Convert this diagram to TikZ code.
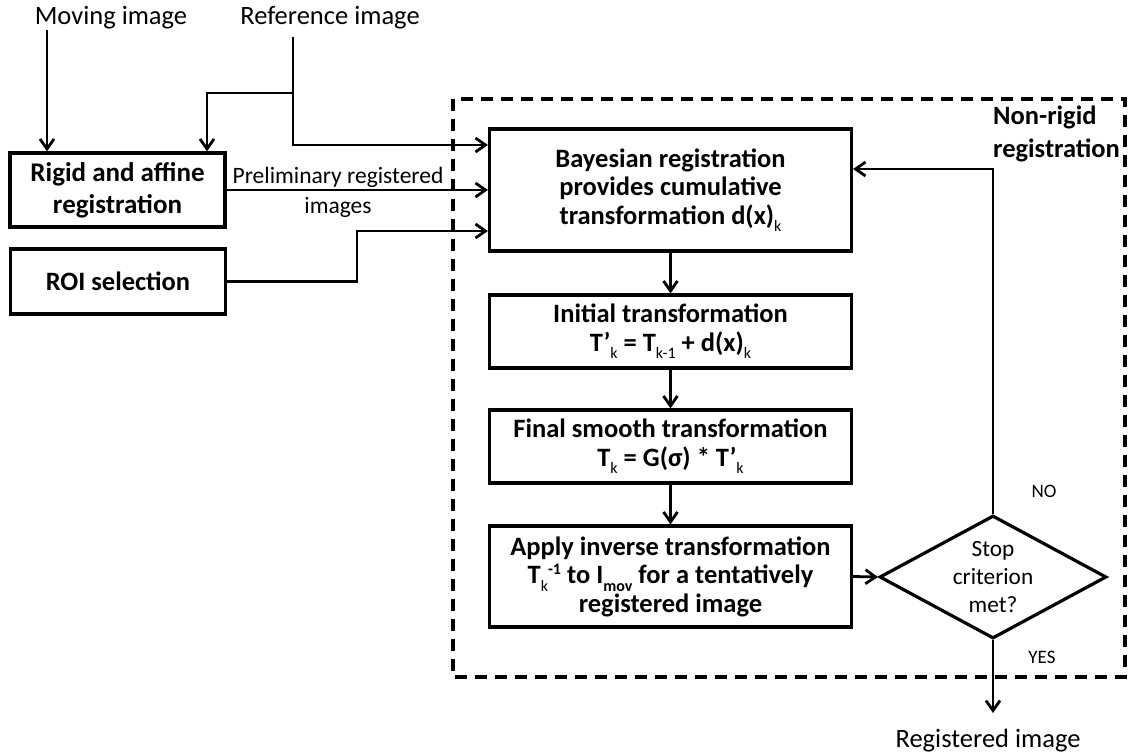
\documentclass[tikz,border=0pt]{standalone}
\usepackage{fontspec}
\setmainfont{Carlito}
\usetikzlibrary{arrows.meta,shapes.geometric}
\newcommand\lsub[1]{\raisebox{-0.28em}{\fontsize{16}{16}\selectfont\mdseries #1}}
\newcommand\bsub[1]{\raisebox{-0.28em}{\fontsize{16}{16}\selectfont\bfseries #1}}
\newcommand\bsup[1]{\raisebox{0.36em}{\fontsize{16}{16}\selectfont\bfseries #1}}
\begin{document}
\begin{tikzpicture}[x=1pt,y=-1pt,
  box/.style={draw, line width=3.2pt, inner sep=0pt, align=center,
    font=\fontsize{26.5}{28.5}\selectfont\bfseries},
  lbl/.style={inner sep=0pt, font=\fontsize{26.5}{30}\selectfont},
  conn/.style={line width=2.8pt},
  arr/.style={conn, -{Straight Barb[length=10pt,width=14pt]}},
  dashbox/.style={draw, line width=3.2pt, dash pattern=on 12pt off 8pt}]
\path[use as bounding box] (0,0) rectangle (1130,755);

% dashed frame
\draw[dashbox] (453,99) rectangle (1125,677);
\node[anchor=north west, align=left, inner sep=0pt,
  font=\fontsize{26.5}{33}\selectfont\bfseries] (nrt) at (993,106) {Non-rigid\\registration};

% inputs
\node[lbl, anchor=base] (mov) at (111,24) {Moving image};
\node[lbl, anchor=base] (ref) at (330,24) {Reference image};

% left boxes
\node[box, minimum width=215pt, minimum height=74pt,
  font=\fontsize{27}{32}\selectfont\bfseries] (rig) at (117.5,190) {Rigid and affine\\registration};
\node[box, minimum width=215pt, minimum height=65pt] (roi) at (118,281.5) {ROI selection};

% main column
\node[box, minimum width=362pt, minimum height=122pt] (bay) at (670.5,190)
  {Bayesian registration\\provides cumulative\\transformation d(x)\lsub{k}};
\node[box, minimum width=362pt, minimum height=73pt] (ini) at (670.5,331.5)
  {Initial transformation\\T’\lsub{k} = T\lsub{k-1} + d(x)\lsub{k}};
\node[box, minimum width=362pt, minimum height=73pt] (fin) at (670.5,446.5)
  {Final smooth transformation\\T\lsub{k} = G(σ) * T’\lsub{k}};
\node[box, minimum width=362pt, minimum height=101pt] (app) at (670.5,576.5)
  {Apply inverse transformation\\T\lsub{k}\bsup{-1} to I\bsub{mov} for a tentatively\\registered image};

% decision
\node[draw, diamond, aspect=1.85, line width=3.2pt, inner sep=0pt,
  minimum width=227pt, minimum height=123pt, align=center,
  font=\fontsize{23.3}{28}\selectfont] (dia) at (993,577) {Stop\\criterion\\met?};

\node[inner sep=0pt, font=\fontsize{19}{22}\selectfont] (no) at (1044,491) {NO};
\node[inner sep=0pt, font=\fontsize{19}{22}\selectfont] (yes) at (1042,657) {YES};

\node[lbl, anchor=base] (out) at (988,747) {Registered image};

% preliminary label
\node[anchor=north, align=center, inner sep=0pt,
  font=\fontsize{23.5}{30}\selectfont] (pre) at (338,167) {Preliminary registered\\images};

% helper coordinates
\coordinate (m1) at (47,30);
\coordinate (r1) at (293,37);
\coordinate (r2) at (293,93);
\coordinate (rb) at (207,93);
\coordinate (jr) at (357,231);
\coordinate (oe) at (993,713);

% connectors
\draw[arr] (m1) -- (m1 |- rig.north);
\draw[conn] (r1) -- (r2);
\draw[arr] (r2) |- ([yshift=45pt]bay.west);
\draw[arr] (r2) -- (rb) -- (rb |- rig.north);
\draw[arr] (rig.east) -- (rig.east -| bay.west);
\draw[arr] (roi.east) -- (roi.east -| jr) -- (jr) -- (jr -| bay.west);
\draw[arr] (bay.south) -- (ini.north);
\draw[arr] (ini.south) -- (fin.north);
\draw[arr] (fin.south) -- (app.north);
\draw[arr] (app.east) -- (dia.west);
\draw[arr] (dia.north) |- ([yshift=21pt]bay.east);
\draw[arr] (dia.south) -- (oe);
\end{tikzpicture}
\end{document}
